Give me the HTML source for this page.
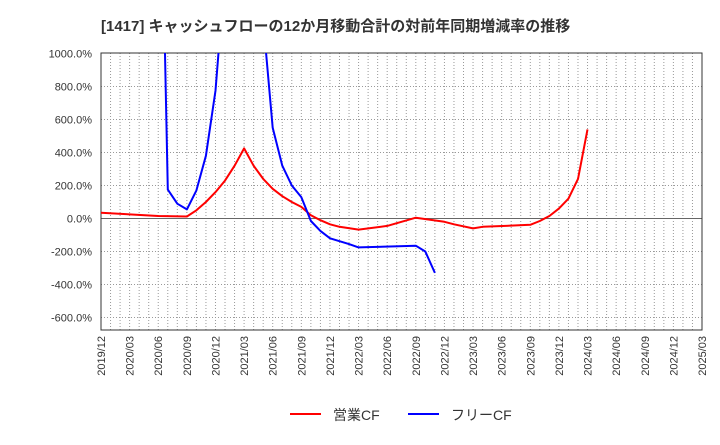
<!DOCTYPE html>
<html><head><meta charset="utf-8">
<style>
html,body{margin:0;padding:0;background:#fff;}
body{width:720px;height:440px;overflow:hidden;font-family:"Liberation Sans","Noto Sans CJK JP",sans-serif;}
</style></head>
<body>
<svg id="chart" width="720" height="440" xmlns="http://www.w3.org/2000/svg" font-family="Liberation Sans, Noto Sans CJK JP, sans-serif">
<text x="101" y="31" font-size="15" font-weight="bold" fill="#333">[1417]  キャッシュフローの12か月移動合計の対前年同期増減率の推移</text>
<defs><clipPath id="plotclip"><rect x="101" y="53" width="601" height="277"/></clipPath></defs>
<g id="grid"></g>
<g id="axes"></g>
<g id="series" clip-path="url(#plotclip)"></g>
<g>
<line x1="290" y1="414" x2="321" y2="414" stroke="#ff0000" stroke-width="2"/>
<text x="333" y="420" font-size="14" fill="#333">営業CF</text>
<line x1="408" y1="414" x2="439" y2="414" stroke="#0000ff" stroke-width="2"/>
<text x="451" y="420" font-size="14" fill="#333">フリーCF</text>
</g>
</svg>
<script>
const xTickLabels = ["2019/12","2020/03","2020/06","2020/09","2020/12","2021/03","2021/06","2021/09","2021/12","2022/03","2022/06","2022/09","2022/12","2023/03","2023/06","2023/09","2023/12","2024/03","2024/06","2024/09","2024/12","2025/03"];
const yTicks = [1000,800,600,400,200,0,-200,-400,-600];
// month index from 2019/12
const opMonths = [0,3,6,9,10,11,12,13,14,15,16,17,18,19,20,21,22,23,24,25,27,30,33,36,37,39,40,45,46,47,48,49,50,51];
const opValues = [35,25,15,12,50,100,160,230,320,425,320,240,180,135,100,70,20,-10,-35,-50,-67,-45,5,-20,-35,-60,-50,-38,-15,15,60,120,240,540];
const fcfMonths = [6,7,8,9,10,11,12,13,14,15,16,17,18,19,20,21,22,23,24,26,27,33,34,35];
const fcfValues = [3000,175,90,55,170,380,775,1500,3000,3000,3000,1200,550,320,200,130,-15,-75,-120,-155,-175,-165,-200,-330];

const NS="http://www.w3.org/2000/svg";
const L=101,R=702,T=53,B=330;
const monthsSpan=63;
const xPos=m=>L+m*(R-L)/monthsSpan;
const yPos=v=>218.5-v*(33/200);
function mk(tag,attrs,parent){const e=document.createElementNS(NS,tag);for(const k in attrs)e.setAttribute(k,attrs[k]);parent.appendChild(e);return e;}
const grid=document.getElementById('grid'),axes=document.getElementById('axes'),series=document.getElementById('series');
for(let m=1;m<monthsSpan;m++){
  const g=mk('line',{x1:xPos(m),x2:xPos(m),y1:T,y2:B,stroke:'#999','stroke-dasharray':'1,2','stroke-width':1},grid);
  
  
}
yTicks.forEach(v=>{
  const y=yPos(v);
  if(v!==0 && v!==1000){
    const g=mk('line',{x1:L,x2:R,y1:y,y2:y,stroke:'#999','stroke-dasharray':'1,2','stroke-width':1},grid);
    
    
  }
  const t=mk('text',{x:92,y:y+4,'text-anchor':'end','font-size':11,fill:'#333'},axes);
  t.textContent=v.toFixed(1)+'%';
  
  
});
const z=mk('line',{x1:L,x2:R,y1:yPos(0),y2:yPos(0),stroke:'#666','stroke-width':1},axes);


const frame=mk('rect',{x:L,y:T,width:R-L,height:B-T,fill:'none',stroke:'#333','stroke-width':1},axes);


const topDot=mk('line',{x1:L,x2:R,y1:T,y2:T,stroke:'#333','stroke-width':1},axes);


xTickLabels.forEach((lab,i)=>{
  const x=xPos(i*3);
  const t=mk('text',{x:0,y:0,'text-anchor':'end','font-size':11,fill:'#333',transform:`translate(${x+4},336) rotate(-90)`},axes);
  t.textContent=lab;
  
  
});
function drawLine(ms,vs,color,name){
  const pts=ms.map((m,i)=>xPos(m).toFixed(1)+','+yPos(vs[i]).toFixed(1)).join(' ');
  const p=mk('polyline',{points:pts,fill:'none',stroke:color,'stroke-width':2,'stroke-linejoin':'round'},series);
  
  
}
drawLine(opMonths,opValues,'#ff0000','operating-cf-line');
drawLine(fcfMonths,fcfValues,'#0000ff','free-cf-line');
</script>
</body></html>
